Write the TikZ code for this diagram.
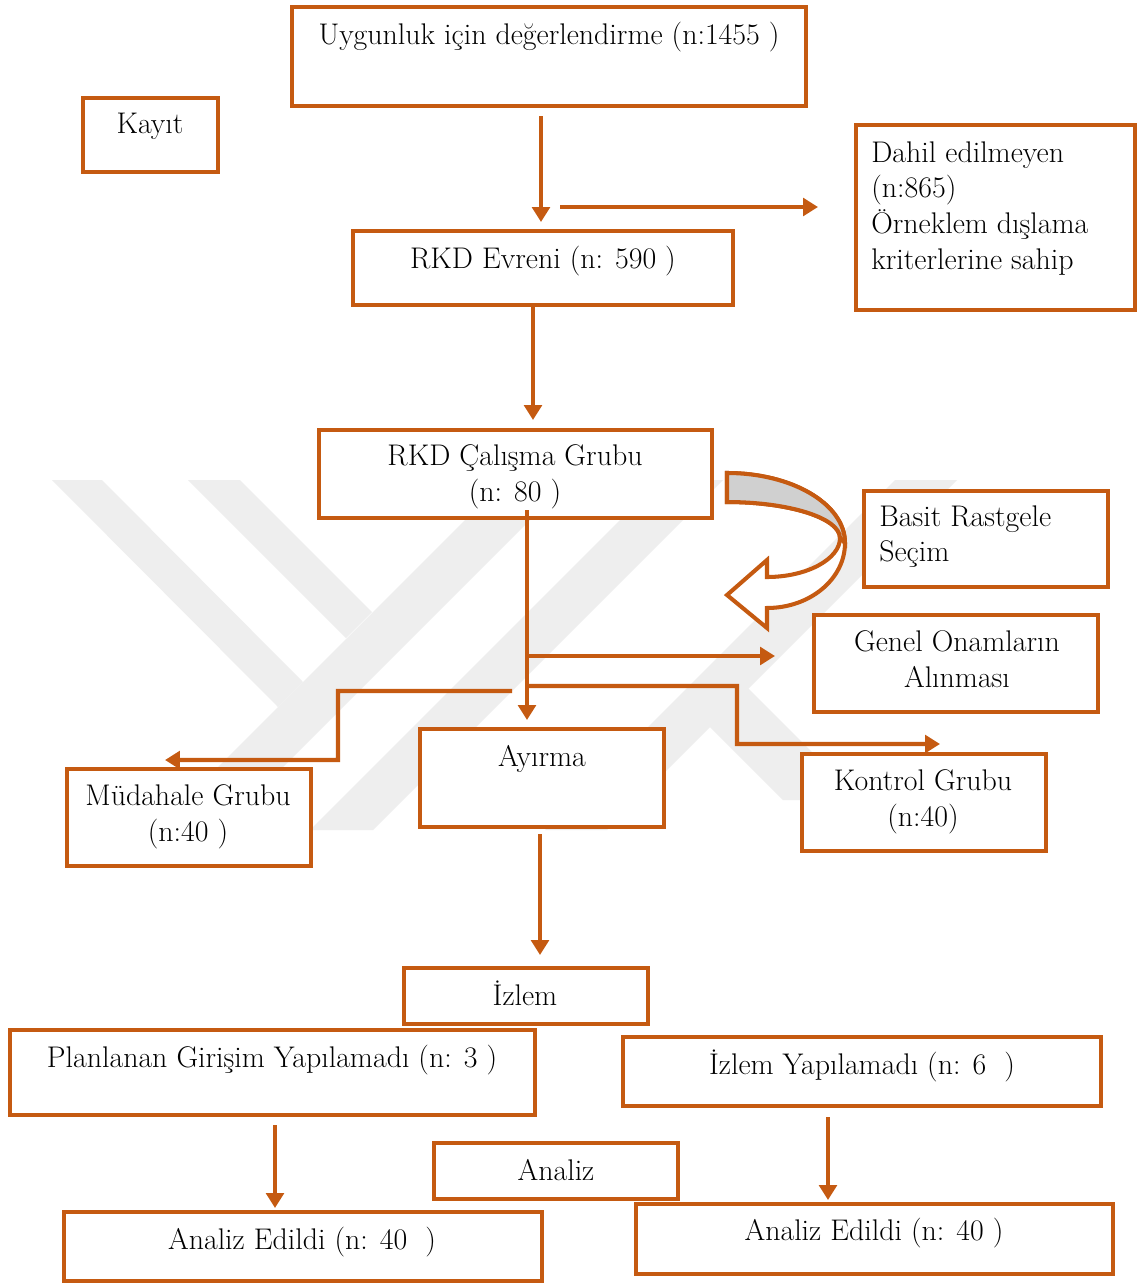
\documentclass[tikz,border=0pt]{standalone}
\usepackage{fontspec}
\usetikzlibrary{arrows.meta,fit,calc}
\definecolor{org}{HTML}{C55A11}
\definecolor{wm}{HTML}{EEEEEE}
\definecolor{bandgray}{HTML}{D0D0D0}
\begin{document}
\begin{tikzpicture}[x=0.02cm,y=-0.02cm,
  box/.style={draw=org, line width=2.8pt, fill=white, inner sep=0pt, outer sep=0pt},
  txt/.style={font=\fontsize{17}{20.4}\selectfont, inner sep=0pt, text=black},
  arr/.style={draw=org, line width=2.3pt, -{Triangle[length=8.5pt,width=10pt]}},
  wmark/.style={fill=wm, draw=none}]
\useasboundingbox (0,0) rectangle (1138,1285);
\fill[white] (0,0) rectangle (1138,1285);
% watermark
\path[wmark] (52,480) -- (102,480) -- (303,682) -- (278,707) -- cycle;
\path[wmark] (188,480) -- (240,480) -- (372,612) -- (346,638) -- cycle;
\path[wmark] (155,830) -- (505,480) -- (570,480) -- (220,830) -- cycle;
\path[wmark] (310,830) -- (660,480) -- (723,480) -- (373,830) -- cycle;
\path[wmark] (895,480) -- (957,480) -- (607,830) -- (545,830) -- cycle;
\path[wmark] (710,727) -- (783,800) -- (860,800) -- (717,657) -- cycle;
% boxes
\node[box, fit={(292,7) (806,106)}] (uyg) {};
\node[box, fit={(83,98) (218,172)}] (kayit) {};
\node[box, fit={(856,125) (1135,310)}] (dahil) {};
\node[box, fit={(353,231) (733,305)}] (evreni) {};
\node[box, fit={(319,430) (712,518)}] (calisma) {};
\node[box, fit={(864,491) (1108,587)}] (basit) {};
\node[box, fit={(814,615) (1098,712)}] (genel) {};
\node[box, fit={(67,769) (311,866)}] (mudahale) {};
\node[box, fit={(420,729) (664,827)}] (ayirma) {};
\node[box, fit={(802,754) (1046,851)}] (kontrol) {};
\node[box, fit={(404,968) (648,1024)}] (izlem) {};
\node[box, fit={(10,1030) (535,1115)}] (planlanan) {};
\node[box, fit={(623,1037) (1101,1106)}] (izlemY) {};
\node[box, fit={(434,1143) (678,1199)}] (analiz) {};
\node[box, fit={(64,1212) (542,1281)}] (analizL) {};
\node[box, fit={(636,1204) (1113,1274)}] (analizR) {};
% texts
\node[txt, anchor=base] (tUyg) at (549,44) {Uygunluk için değerlendirme (n:1455 )};
\node[txt, anchor=base] (tKayit) at (150,133) {Kayıt};
\node[txt, anchor=north west, align=left] (tDahil) at (871,141) {Dahil edilmeyen\\(n:865)\\Örneklem dışlama\\kriterlerine sahip};
\node[txt, anchor=base] (tEvreni) at (543,268) {RKD Evreni (n: 590 )};
\node[txt, anchor=north, align=center] (tCalisma) at (515,444) {RKD Çalışma Grubu\\(n: 80 )};
\node[txt, anchor=north west, align=left] (tBasit) at (879,505) {Basit Rastgele\\Seçim};
\node[txt, anchor=north, align=center] (tGenel) at (957,630) {Genel Onamların\\Alınması};
\node[txt, anchor=north, align=center] (tMud) at (188,784) {Müdahale Grubu\\(n:40 )};
\node[txt, anchor=base] (tAyirma) at (542,766) {Ayırma};
\node[txt, anchor=north, align=center] (tKontrol) at (923,769) {Kontrol Grubu\\(n:40)};
\node[txt, anchor=base] (tIzlem) at (525,1005) {İzlem};
\node[txt, anchor=base] (tPlan) at (272,1067) {Planlanan Girişim Yapılamadı (n: 3 )};
\node[txt, anchor=base] (tIzlemY) at (862,1074) {İzlem Yapılamadı (n: 6\ \ )};
\node[txt, anchor=base] (tAnaliz) at (556,1180) {Analiz};
\node[txt, anchor=base] (tAnL) at (302,1249) {Analiz Edildi (n: 40\ \ )};
\node[txt, anchor=base] (tAnR) at (874,1240) {Analiz Edildi (n: 40 )};
% helper coordinates
\coordinate (x541) at (541,0);
\coordinate (x533) at (533,0);
\coordinate (x540) at (540,0);
\coordinate (x275) at (275,0);
\coordinate (x828) at (828,0);
\coordinate (h1) at (560,207);
\coordinate (s3) at (527,510);
\coordinate (b1) at (527,656);
\coordinate (b2) at (527,686);
\coordinate (k1) at (737,744);
\coordinate (k2) at ($(kontrol.north)+(16,-10)$);
\coordinate (m0) at (512,691);
\coordinate (m1) at (338,760);
\coordinate (m2) at ($(mudahale.north west)+(98,-9)$);
% connectors
\draw[arr, shorten <=0.2cm, shorten >=0.18cm] (uyg.south -| x541) -- (evreni.north -| x541);
\draw[arr, shorten >=0.76cm] (h1) -- (dahil.west |- h1);
\draw[arr, shorten >=0.2cm] (evreni.south -| x533) -- (calisma.north -| x533);
\draw[arr, shorten >=0.18cm] (s3) -- (ayirma.north -| s3);
\draw[arr, shorten >=0.78cm] (b1) -- (genel.west |- b1);
\draw[arr] (b2) -| (k1) -- (k2);
\draw[arr] (m0) -| (m1) -- (m2);
\draw[arr, shorten <=0.14cm, shorten >=0.26cm] (ayirma.south -| x540) -- (izlem.north -| x540);
\draw[arr, shorten <=0.2cm, shorten >=0.08cm] (planlanan.south -| x275) -- (analizL.north -| x275);
\draw[arr, shorten <=0.22cm, shorten >=0.08cm] (izlemY.south -| x828) -- (analizR.north -| x828);
% curved block arrow
\path[draw=org, line width=2.3pt, fill=white, line join=miter]
  (727,473) .. controls (792,473) and (845,504) .. (845,543)
  .. controls (845,579) and (810,608) .. (767,608)
  -- (767,628) -- (727,595) -- (767,560) -- (767,577)
  .. controls (807,577) and (840,559) .. (840,538)
  .. controls (840,518) and (789,502) .. (727,502) -- cycle;
\path[draw=org, line width=2.3pt, fill=bandgray, line join=miter]
  (727,473) .. controls (792,473) and (845,504) .. (845,543)
  -- (840,538)
  .. controls (840,518) and (789,502) .. (727,502) -- cycle;
\end{tikzpicture}
\end{document}
